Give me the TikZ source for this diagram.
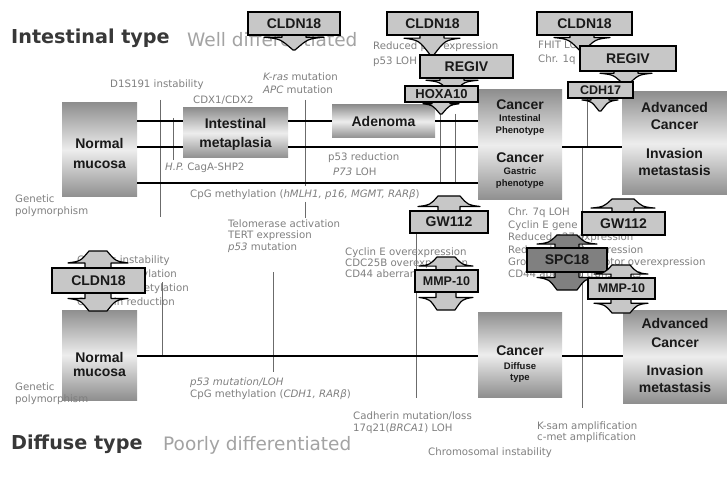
\documentclass[tikz,border=0pt]{standalone}
\usepackage{fontspec}
\setmainfont{DejaVu Sans}
\newfontfamily\hv{Liberation Sans}
\definecolor{lblc}{gray}{0.5}
\definecolor{ttla}{gray}{0.22}
\definecolor{ttlb}{gray}{0.64}
\definecolor{cof}{gray}{0.78}
\definecolor{cod}{gray}{0.5}
\definecolor{shd}{gray}{0.56}
\definecolor{shl}{gray}{0.93}
\definecolor{vg}{gray}{0.42}
\definecolor{btx}{gray}{0.1}
\def\ArrF{0.3}
% arrow part of a callout: [opts] cx, y at box edge, y of tip, shaft half, head half, flat half
\newcommand\Arr[7][]{%
 \draw[arrsh,#1] ({#2-#5},#3) -- ({#2-#5},{#3+\ArrF*(#4-#3)}) -- ({#2-#6},{#3+\ArrF*(#4-#3)})
  .. controls ({#2-0.45*(#6+#7)},{#3+(\ArrF+0.1)*(#4-#3)}) .. ({#2-#7},#4) -- ({#2+#7},#4)
  .. controls ({#2+0.45*(#6+#7)},{#3+(\ArrF+0.1)*(#4-#3)}) .. ({#2+#6},{#3+\ArrF*(#4-#3)})
  -- ({#2+#5},{#3+\ArrF*(#4-#3)}) -- ({#2+#5},#3) -- cycle;}
\begin{document}
\begin{tikzpicture}[x=1pt,y=-1pt,
 lbl/.style={font=\fontsize{10.2}{11.8}\selectfont, text=lblc, anchor=west, inner sep=0pt, align=left},
 stagebox/.style={shade, top color=shd, bottom color=shd, middle color=shl, inner sep=0pt},
 btxt/.style={font=\hv\bfseries\fontsize{14}{16}\selectfont, text=btx, inner sep=0pt, text height=10pt, text depth=0pt},
 bsm/.style={font=\hv\bfseries\fontsize{9.5}{11}\selectfont, text=btx, inner sep=0pt, text height=6.8pt, text depth=0pt},
 cobox/.style={draw=black, line width=1.2pt, fill=cof, inner sep=0pt, text=btx, font=\hv\bfseries\fontsize{14}{16}\selectfont},
 arrsh/.style={draw=black, line width=1.2pt, fill=cof, line join=round},
 mainline/.style={line width=2.6pt, black},
 vline/.style={line width=0.7pt, vg},
 title/.style={font=\bfseries\fontsize{19.2}{22}\selectfont, text=ttla, anchor=west, inner sep=0pt},
 subtitle/.style={font=\fontsize{18.5}{22}\selectfont, text=ttlb, anchor=west, inner sep=0pt},
]
\useasboundingbox[fill=white] (0,0) rectangle (727,478);

% ---------- thin vertical marks
\draw[vline] (160,100) -- (160,217);
\draw[vline] (173,118) -- (173,160);
\draw[vline] (305,100) -- (305,186);
\draw[vline] (305,202) -- (305,218);
\draw[vline] (440,114) -- (440,184);
\draw[vline] (455,114) -- (455,184);
\draw[vline] (587,98) -- (587,147);
\draw[vline] (582,147) -- (582,408);
\draw[vline] (162,282) -- (162,357);
\draw[vline] (273,272) -- (273,372);
\draw[vline] (416,232) -- (416,398);

% ---------- stage boxes, intestinal row
\node[stagebox, minimum width=75pt, minimum height=94pt] (nm1) at (99.5,150) {};
\node[btxt] (nm1a) at (99.5,144) {Normal};
\node[btxt] (nm1b) at (99.5,164) {mucosa};
\node[stagebox, minimum width=105pt, minimum height=50pt] (im) at (235.5,133) {};
\node[btxt] (ima) at (235.5,124) {Intestinal};
\node[btxt] (imb) at (235.5,143) {metaplasia};
\node[stagebox, minimum width=103pt, minimum height=33pt] (ad) at (383.5,121.5) {};
\node[btxt] (ada) at (383.5,121.5) {Adenoma};
\node[stagebox, minimum width=84pt, minimum height=110pt] (ca1) at (520,145) {};
\node[btxt] (ca1a) at (520,105) {Cancer};
\node[bsm] (ca1b) at (520,118) {Intestinal};
\node[bsm] (ca1c) at (520,130) {Phenotype};
\node[btxt] (ca1d) at (520,158) {Cancer};
\node[bsm] (ca1e) at (520,171) {Gastric};
\node[bsm] (ca1f) at (520,183) {phenotype};
\node[stagebox, minimum width=105pt, minimum height=103pt] (adv1) at (674.5,143.5) {};
\node[btxt] (adv1a) at (674.5,108) {Advanced};
\node[btxt] (adv1b) at (674.5,125) {Cancer};
\node[btxt] (adv1c) at (674.5,154) {Invasion};
\node[btxt] (adv1d) at (674.5,171) {metastasis};

% ---------- stage boxes, diffuse row
\node[stagebox, minimum width=75pt, minimum height=90pt] (nm2) at (99.5,355) {};
\node[btxt] (nm2a) at (99.5,357) {Normal};
\node[btxt] (nm2b) at (99.5,371) {mucosa};
\node[stagebox, minimum width=84pt, minimum height=85pt] (ca2) at (520,354.5) {};
\node[btxt] (ca2a) at (520,350) {Cancer};
\node[bsm] (ca2b) at (520,366) {Diffuse};
\node[bsm] (ca2c) at (520,377) {type};
\node[stagebox, minimum width=104pt, minimum height=93pt] (adv2) at (675,356.5) {};
\node[btxt] (adv2a) at (675,323) {Advanced};
\node[btxt] (adv2b) at (675,342) {Cancer};
\node[btxt] (adv2c) at (675,370) {Invasion};
\node[btxt] (adv2d) at (675,387) {metastasis};

% ---------- progression lines
\coordinate (yA) at (0,121);
\coordinate (yB) at (0,147);
\coordinate (yC) at (0,183);
\coordinate (yD) at (0,356);
\draw[mainline] (nm1.east |- yA) -- (im.west |- yA);
\draw[mainline] (im.east |- yA) -- (ad.west |- yA);
\draw[mainline] (ad.east |- yA) -- (ca1.west |- yA);
\draw[mainline] (nm1.east |- yB) -- (im.west |- yB);
\draw[mainline] (im.east |- yB) -- (ca1.west |- yB);
\draw[mainline] (ca1.east |- yB) -- (adv1.west |- yB);
\draw[mainline] (nm1.east |- yC) -- (ca1.west |- yC);
\draw[mainline] (nm2.east |- yD) -- (ca2.west |- yD);
\draw[mainline] (ca2.east |- yD) -- (adv2.west |- yD);

% ---------- titles
\node[title] (t1) at (11,38) {Intestinal type};
\node[subtitle] (t2) at (187,40) {Well differentiated};
\node[title] (t3) at (11,444) {Diffuse type};
\node[subtitle] (t4) at (163,445) {Poorly differentiated};

% ---------- labels
\node[lbl] (l1) at (110,85) {D1S191 instability};
\node[lbl] (l2) at (193,100) {CDX1/CDX2};
\node[lbl, font=\fontsize{10.2}{13}\selectfont] (l3) at (263,83.5) {{\itshape K-ras} mutation\\{\itshape APC} mutation};
\node[lbl, font=\fontsize{10.2}{15}\selectfont] (l4) at (373,54) {Reduced p27 expression\\p53 LOH};
\node[lbl, font=\fontsize{10.2}{14}\selectfont] (l5) at (538,53) {FHIT LOH\\Chr. 1q LOH};
\node[lbl] (l6) at (165,168) {{\itshape H.P.} CagA-SHP2};
\node[lbl, font=\fontsize{10.2}{15}\selectfont] (l7) at (328,164.5) {p53 reduction\\\hspace*{5pt}{\itshape P73} LOH};
\node[lbl] (l8) at (190,195) {CpG methylation ({\itshape hMLH1, p16, MGMT, RARβ})};
\node[lbl] (l9) at (15,206) {Genetic\\polymorphism};
\node[lbl, font=\fontsize{10.2}{14}\selectfont] (l10) at (77,281) {Genetic instability\\hMLH1 methylation\\Histone deacetylation\\Cadherin reduction};
\node[lbl, font=\fontsize{10.2}{11.5}\selectfont] (l11) at (228,236) {Telomerase activation\\TERT expression\\{\itshape p53} mutation};
\node[lbl, font=\fontsize{10.2}{11}\selectfont] (l12) at (345,264) {Cyclin E overexpression\\CDC25B overexpression\\CD44 aberrant transcripts};
\node[lbl, font=\fontsize{10.2}{12.4}\selectfont] (l13) at (508,244) {Chr. 7q LOH\\Cyclin E gene amplification\\Reduced p27 expression\\Reduced nm23 expression\\Growth factor/receptor overexpression\\CD44 aberrant transcripts};
\node[lbl, font=\fontsize{10.2}{11.5}\selectfont] (l14) at (190,388.5) {{\itshape p53 mutation/LOH}\\CpG methylation ({\itshape CDH1, RARβ})};
\node[lbl] (l15) at (15,394) {Genetic\\polymorphism};
\node[lbl, font=\fontsize{10.2}{11.5}\selectfont] (l16) at (353,422.5) {Cadherin mutation/loss\\17q21({\itshape BRCA1}) LOH};
\node[lbl, font=\fontsize{10.2}{10.5}\selectfont] (l17) at (537,432) {K-sam amplification\\c-met amplification};
\node[lbl] (l18) at (428,453) {Chromosomal instability};

% ---------- callouts, top (down arrows)
\def\ArrF{0.15}
\Arr{294}{35}{50}{12}{30}{1}
\node[cobox, minimum width=92pt, minimum height=23pt] (c1) at (294,23.5) {CLDN18};
\Arr{432}{35}{56}{12}{28}{1}
\node[cobox, minimum width=91pt, minimum height=23pt] (c2) at (432.5,23.5) {CLDN18};
\Arr{452}{78}{93}{12}{26}{1}
\node[cobox, minimum width=93pt, minimum height=23pt] (c3) at (466.5,66.5) {REGIV};
\Arr{441}{102}{114}{9}{18}{1}
\node[cobox, minimum width=73pt, minimum height=16pt, font=\hv\bfseries\fontsize{13}{15}\selectfont] (c4) at (441.5,94) {HOXA10};
\Arr{582}{35}{52}{12}{28}{1}
\node[cobox, minimum width=95pt, minimum height=23pt] (c5) at (584.5,23.5) {CLDN18};
\Arr{626}{71}{86}{12}{26}{1}
\node[cobox, minimum width=96pt, minimum height=25pt] (c6) at (628,58.5) {REGIV};
\Arr{600}{98}{111}{9}{18}{1}
\node[cobox, minimum width=65pt, minimum height=16pt, font=\hv\bfseries\fontsize{12.5}{15}\selectfont] (c7) at (600.5,90) {CDH17};

% ---------- callouts, middle
\def\ArrF{0.3}
\Arr{98}{268}{251}{13}{30}{9}
\Arr{98}{293}{311}{13}{30}{9}
\node[cobox, minimum width=93pt, minimum height=25pt] (c8) at (98.5,280.5) {CLDN18};
\Arr{449}{211}{196}{11}{31}{11}
\node[cobox, minimum width=78pt, minimum height=22pt] (c9) at (449,222) {GW112};
\Arr{623}{212}{199}{11}{32}{11}
\node[cobox, minimum width=83pt, minimum height=23pt] (c10) at (623.5,223.5) {GW112};
\Arr[fill=cod]{567}{248}{235}{12}{30}{10}
\Arr[fill=cod]{567}{272}{290}{12}{30}{10}
\node[cobox, fill=cod, minimum width=80pt, minimum height=24pt] (c11) at (567,260) {SPC18};
\Arr{446}{270}{257}{10}{27}{9}
\Arr{446}{292}{310}{10}{27}{9}
\node[cobox, minimum width=63pt, minimum height=22pt, font=\hv\bfseries\fontsize{12.5}{15}\selectfont] (c12) at (446.5,281) {MMP-10};
\Arr{621}{278}{265}{10}{27}{9}
\Arr{621}{299}{313}{10}{27}{9}
\node[cobox, minimum width=67pt, minimum height=21pt, font=\hv\bfseries\fontsize{12.5}{15}\selectfont] (c13) at (621.5,288.5) {MMP-10};
\end{tikzpicture}
\end{document}
